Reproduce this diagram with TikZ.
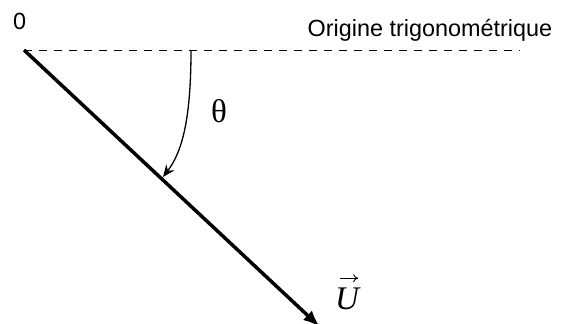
\documentclass[tikz,border=0pt]{standalone}
\usepackage{fontspec}
\setmainfont{Liberation Sans}
\newfontfamily\SerifTimes{Liberation Serif}
\usepackage{tikz}
\usetikzlibrary{arrows.meta}

\begin{document}
\begin{tikzpicture}[x=1pt,y=-1pt,
  Etiqueta/.style={inner sep=0pt,font=\fontsize{23.4}{28}\selectfont},
  Griega/.style={inner sep=0pt,font=\SerifTimes\fontsize{33}{38}\selectfont}]
  \useasboundingbox (0,0) rectangle (566,324);
  \coordinate (O) at (24,50);
  \coordinate (Fin) at (520,50);
  \coordinate (U) at (320,327);
  \coordinate (ArcoIni) at (191,50);
  \coordinate (ArcoFin) at (163,177);
  \draw[dashed,line width=1pt,dash pattern=on 8pt off 7pt] (O)--(Fin);
  \draw[-{Latex[length=17pt,width=13pt]},line width=3.5pt] (O)--(U);
  \draw[-{Stealth[length=12pt,width=10pt]},line width=1.3pt] (ArcoIni) .. controls (191,120) and (182,152) .. (ArcoFin);
  \node[Etiqueta,anchor=base west] (cero) at (13,29.5) {0};
  \node[Etiqueta,anchor=base west] (origine) at (307.5,37) {Origine trigonométrique};
  \node[Griega,anchor=base] (theta) at (219,122) {θ};
  \node[Griega,anchor=base] (vecU) at (347,309) {\itshape U};
  \draw[-{To[length=5pt,width=8pt]},line width=0.9pt] ([xshift=5pt,yshift=9pt]vecU.north west) -- ([xshift=-1pt,yshift=9pt]vecU.north east);
\end{tikzpicture}
\end{document}
